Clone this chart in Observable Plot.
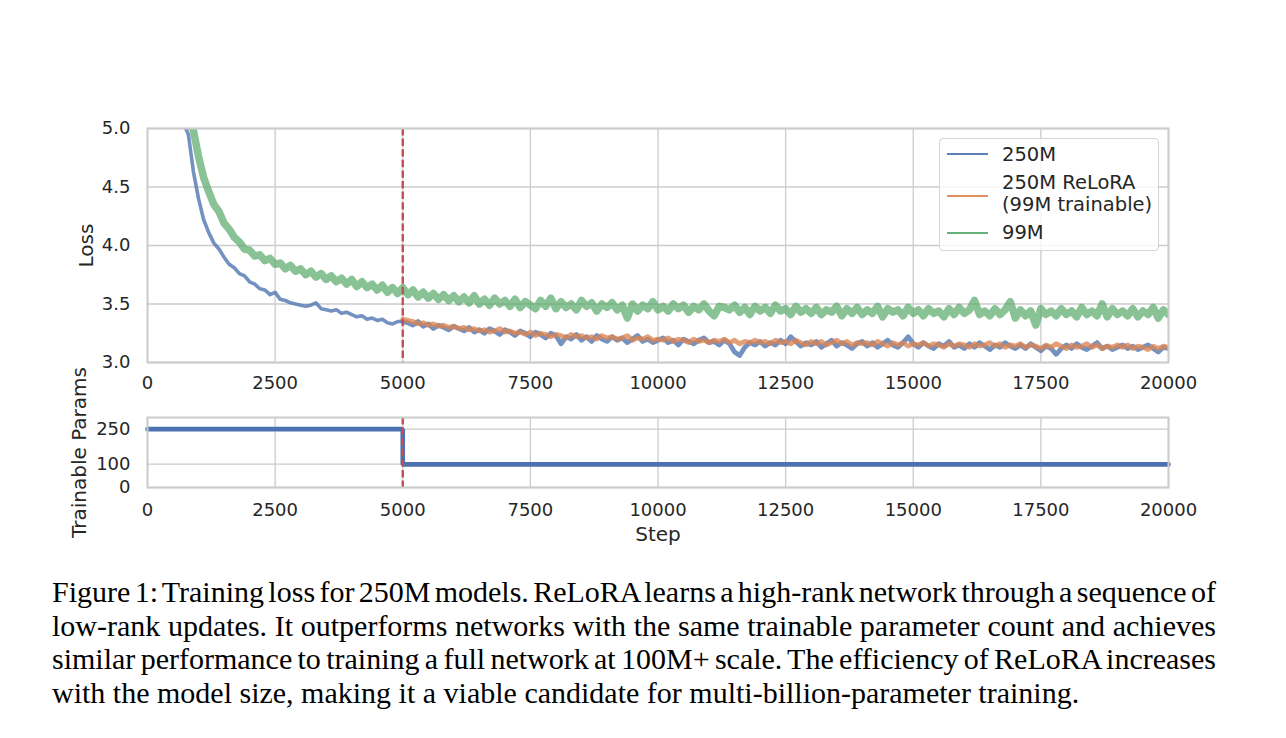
<!DOCTYPE html>
<html>
<head>
<meta charset="utf-8">
<script src="https://cdn.jsdelivr.net/npm/d3@7"></script>
<script src="https://cdn.jsdelivr.net/npm/@observablehq/plot@0.6"></script>
<style>
  body { margin: 0; background: #fff; }
  #fig { position: relative; width: 1286px; height: 738px; overflow: hidden; background: #fff; }
  #top, #bottom { position: absolute; left: 0; }
  #top { top: 0; }
  #bottom { top: 400px; }
  .legend {
    position: absolute; left: 939px; top: 138px; width: 218px; height: 111px;
    border: 1px solid #d4d4d4; border-radius: 4px; background: rgba(255,255,255,0.8);
    font-family: "DejaVu Sans"; font-size: 19.5px; color: #262626;
  }
  .legend .swatch { position: absolute; left: 7px; width: 41px; height: 2.6px; }
  .legend .lab { position: absolute; left: 62px; line-height: 22px; white-space: nowrap; }
  #caption {
    position: absolute; left: 52px; top: 575px; width: 1164px;
    font-family: "Liberation Serif", "Times New Roman", serif; font-size: 30px; line-height: 33.5px; color: #000;
  }
  #caption div { white-space: nowrap; }
  #caption span { white-space: nowrap; }
</style>
</head>
<body>
<div id="fig">
  <div id="top"></div>
  <div id="bottom"></div>
  <div class="legend" id="legend"></div>
  <div id="caption"></div>
</div>
<script>
// Series colours (seaborn "deep")
const colBlue = "#4C72B0";
const colOrange = "#DD8452";
const colGreen = "#55A868";
const colRed = "#C44E52";
const gridColor = "#cccccc";

// Axis ticks
const stepTicks = [0, 2500, 5000, 7500, 10000, 12500, 15000, 17500, 20000];
const lossTicks = [3.0, 3.5, 4.0, 4.5, 5.0];
const paramTicks = [0, 100, 250];

// Step at which ReLoRA switches to low-rank training
const resetStep = 5000;

// Loss curves, logged every 100 steps
const lossStride = 100;

// 250M full model, steps 700..20000
const blueStart = 700;
const blueLoss = [
  5.05, 4.95, 4.63, 4.40,
  4.22, 4.11, 4.02, 3.97, 3.90, 3.84, 3.81, 3.76, 3.74, 3.69,
  3.67, 3.63, 3.62, 3.58, 3.60, 3.54, 3.53, 3.51, 3.50, 3.49,
  3.48, 3.49, 3.51, 3.46, 3.45, 3.44, 3.45, 3.42, 3.43, 3.41,
  3.39, 3.40, 3.37, 3.38, 3.36, 3.37, 3.34, 3.33, 3.35, 3.35,
  3.34, 3.32, 3.35, 3.31, 3.33, 3.29, 3.32, 3.30, 3.28, 3.31,
  3.29, 3.27, 3.30, 3.26, 3.28, 3.25, 3.29, 3.27, 3.24, 3.28,
  3.26, 3.23, 3.27, 3.25, 3.22, 3.26, 3.24, 3.21, 3.25, 3.23,
  3.16, 3.22, 3.20, 3.24, 3.19, 3.22, 3.18, 3.23, 3.20, 3.18,
  3.22, 3.19, 3.21, 3.17, 3.20, 3.23, 3.18, 3.20, 3.17, 3.19,
  3.21, 3.17, 3.19, 3.15, 3.20, 3.18, 3.16, 3.19, 3.21, 3.17,
  3.18, 3.15, 3.19, 3.16, 3.09, 3.06, 3.13, 3.17, 3.15, 3.18,
  3.14, 3.17, 3.15, 3.19, 3.16, 3.22, 3.18, 3.14, 3.17, 3.15,
  3.18, 3.13, 3.16, 3.19, 3.14, 3.17, 3.15, 3.12, 3.16, 3.18,
  3.14, 3.17, 3.13, 3.16, 3.19, 3.15, 3.13, 3.17, 3.22, 3.16,
  3.13, 3.17, 3.14, 3.12, 3.16, 3.14, 3.18, 3.13, 3.15, 3.12,
  3.16, 3.13, 3.17, 3.14, 3.11, 3.15, 3.13, 3.17, 3.14, 3.12,
  3.15, 3.12, 3.16, 3.13, 3.10, 3.14, 3.12, 3.07, 3.12, 3.15,
  3.12, 3.16, 3.13, 3.11, 3.14, 3.17, 3.12, 3.14, 3.11, 3.13,
  3.15, 3.12, 3.14, 3.11, 3.13, 3.15, 3.12, 3.09, 3.13, 3.12
];

// 250M ReLoRA (99M trainable), steps 5000..20000
const orangeStart = 5000;
const orangeLoss = [
  3.37,
  3.36, 3.35, 3.33, 3.34, 3.32, 3.33, 3.31, 3.32, 3.30, 3.31,
  3.29, 3.30, 3.28, 3.29, 3.27, 3.28, 3.26, 3.27, 3.29, 3.26,
  3.27, 3.25, 3.26, 3.24, 3.26, 3.23, 3.25, 3.24, 3.22, 3.24,
  3.23, 3.21, 3.24, 3.22, 3.23, 3.21, 3.22, 3.20, 3.23, 3.21,
  3.22, 3.20, 3.21, 3.23, 3.19, 3.21, 3.20, 3.22, 3.19, 3.20,
  3.19, 3.21, 3.18, 3.20, 3.19, 3.17, 3.20, 3.18, 3.19, 3.17,
  3.19, 3.18, 3.20, 3.17, 3.19, 3.16, 3.18, 3.17, 3.19, 3.17,
  3.18, 3.16, 3.19, 3.17, 3.18, 3.16, 3.19, 3.17, 3.15, 3.18,
  3.16, 3.18, 3.15, 3.17, 3.19, 3.16, 3.18, 3.15, 3.17, 3.16,
  3.17, 3.15, 3.18, 3.16, 3.14, 3.17, 3.15, 3.17, 3.14, 3.16,
  3.15, 3.17, 3.14, 3.16, 3.15, 3.13, 3.16, 3.14, 3.16, 3.15,
  3.13, 3.16, 3.14, 3.15, 3.17, 3.14, 3.16, 3.13, 3.15, 3.14,
  3.16, 3.13, 3.15, 3.14, 3.12, 3.15, 3.13, 3.16, 3.14, 3.12,
  3.15, 3.13, 3.14, 3.16, 3.13, 3.15, 3.12, 3.14, 3.13, 3.15,
  3.13, 3.15, 3.12, 3.14, 3.13, 3.11, 3.14, 3.12, 3.14, 3.13
];

// 99M full model, steps 800..20000
const greenStart = 800;
const greenLoss = [
  5.10, 4.98, 4.76,
  4.58, 4.46, 4.35, 4.29, 4.19, 4.14, 4.07, 4.03, 3.97, 3.96,
  3.91, 3.92, 3.87, 3.89, 3.84, 3.85, 3.80, 3.83, 3.78, 3.80,
  3.75, 3.78, 3.73, 3.76, 3.71, 3.74, 3.69, 3.72, 3.67, 3.71,
  3.65, 3.69, 3.64, 3.67, 3.62, 3.66, 3.60, 3.64, 3.59, 3.64,
  3.58, 3.62, 3.56, 3.60, 3.55, 3.59, 3.54, 3.58, 3.53, 3.57,
  3.52, 3.56, 3.51, 3.57, 3.50, 3.54, 3.49, 3.55, 3.50, 3.53,
  3.48, 3.54, 3.47, 3.52, 3.49, 3.46, 3.53, 3.48, 3.55, 3.46,
  3.52, 3.47, 3.50, 3.45, 3.53, 3.48, 3.51, 3.44, 3.50, 3.47,
  3.51, 3.45, 3.49, 3.38, 3.50, 3.44, 3.49, 3.46, 3.52, 3.45,
  3.48, 3.44, 3.50, 3.46, 3.49, 3.43, 3.48, 3.45, 3.50, 3.44,
  3.40, 3.48, 3.47, 3.45, 3.49, 3.43, 3.47, 3.41, 3.48, 3.44,
  3.47, 3.42, 3.49, 3.44, 3.46, 3.41, 3.48, 3.43, 3.46, 3.42,
  3.47, 3.41, 3.45, 3.43, 3.48, 3.40, 3.46, 3.42, 3.47, 3.41,
  3.45, 3.42, 3.48, 3.39, 3.46, 3.43, 3.45, 3.40, 3.47, 3.42,
  3.45, 3.40, 3.46, 3.42, 3.44, 3.39, 3.46, 3.41, 3.47, 3.42,
  3.45, 3.53, 3.41, 3.44, 3.40, 3.46, 3.41, 3.45, 3.52, 3.38,
  3.45, 3.40, 3.44, 3.32, 3.46, 3.41, 3.44, 3.40, 3.46, 3.41,
  3.44, 3.39, 3.47, 3.41, 3.44, 3.40, 3.50, 3.39, 3.46, 3.41,
  3.44, 3.40, 3.46, 3.39, 3.44, 3.41, 3.47, 3.38, 3.45, 3.41
];

// Trainable parameters (millions) over training
const paramSteps = [0, 5000, 20000];
const paramValues = [250, 99, 99];

// Legend entries
const legendLabels = ["250M", "250M ReLoRA\n(99M trainable)", "99M"];
const legendColors = [colBlue, colOrange, colGreen];

const captionLines = [
  "Figure 1: Training loss for 250M models. ReLoRA learns a high-rank network through a sequence of",
  "low-rank updates. It outperforms networks with the same trainable parameter count and achieves",
  "similar performance to training a full network at 100M+ scale. The efficiency of ReLoRA increases",
  "with the model size, making it a viable candidate for multi-billion-parameter training."
];

function toRows(start, values) {
  return values.map((loss, i) => ({step: start + i * lossStride, loss}));
}
const blue = toRows(blueStart, blueLoss);
const orange = toRows(orangeStart, orangeLoss);
const green = toRows(greenStart, greenLoss);
const params = paramSteps.map((step, i) => ({step, value: paramValues[i]}));

// the full-rank run is drawn a little heavier after the reset point, where it gets noisier
const blueEarly = blue.filter(d => d.step <= resetStep);
const blueLate = blue.filter(d => d.step >= resetStep);

const baseStyle = {fontFamily: "DejaVu Sans", fontSize: "18px", color: "#262626", background: "transparent", overflow: "visible"};
const fmtStep = d3.format("d");

const topChart = Plot.plot({
  width: 1286, height: 410,
  marginLeft: 147, marginRight: 118, marginTop: 128, marginBottom: 48,
  style: baseStyle,
  x: {domain: [0, 20000]},
  y: {domain: [3, 5]},
  marks: [
    Plot.gridX(stepTicks, {stroke: gridColor, strokeOpacity: 1, strokeWidth: 1.3}),
    Plot.gridY(lossTicks, {stroke: gridColor, strokeOpacity: 1, strokeWidth: 1.3}),
    Plot.line(green, {x: "step", y: "loss", stroke: colGreen, strokeWidth: 7.5, strokeOpacity: 0.7, clip: true}),
    Plot.line(blueEarly, {x: "step", y: "loss", stroke: colBlue, strokeWidth: 3.6, strokeOpacity: 0.78, clip: true}),
    Plot.line(blueLate, {x: "step", y: "loss", stroke: colBlue, strokeWidth: 4.8, strokeOpacity: 0.78, clip: true}),
    Plot.line(orange, {x: "step", y: "loss", stroke: colOrange, strokeWidth: 4.8, strokeOpacity: 0.78, clip: true}),
    Plot.ruleX([resetStep], {stroke: colRed, strokeWidth: 2.4, strokeDasharray: "7.4,3.2"}),
    Plot.frame({stroke: gridColor, strokeWidth: 2}),
    Plot.axisX(stepTicks, {tickSize: 0, tickPadding: 14, tickFormat: fmtStep, label: null}),
    Plot.axisY(lossTicks, {tickSize: 0, tickPadding: 17, tickFormat: d3.format(".1f"), label: null}),
    Plot.text(["Loss"], {frameAnchor: "left", dx: -61, rotate: -90, text: d => d, fontSize: 20, textAnchor: "middle", lineAnchor: "middle"})
  ]
});
document.getElementById("top").appendChild(topChart);

const bottomChart = Plot.plot({
  width: 1286, height: 160,
  marginLeft: 147, marginRight: 118, marginTop: 17, marginBottom: 73,
  style: baseStyle,
  x: {domain: [0, 20000]},
  y: {domain: [0, 300]},
  marks: [
    Plot.gridX(stepTicks, {stroke: gridColor, strokeOpacity: 1, strokeWidth: 1.3}),
    Plot.gridY(paramTicks, {stroke: gridColor, strokeOpacity: 1, strokeWidth: 1.3}),
    Plot.line(params, {x: "step", y: "value", curve: "step-after", stroke: colBlue, strokeWidth: 4.6, strokeLinejoin: "miter"}),
    Plot.ruleX([resetStep], {stroke: colRed, strokeWidth: 2.4, strokeDasharray: "7.4,3.2"}),
    Plot.frame({stroke: gridColor, strokeWidth: 2}),
    Plot.axisX(stepTicks, {tickSize: 0, tickPadding: 16, tickFormat: fmtStep, label: null}),
    Plot.axisY(paramTicks, {tickSize: 0, tickPadding: 17, label: null}),
    Plot.text(["Trainable Params"], {frameAnchor: "left", dx: -68, rotate: -90, text: d => d, fontSize: 20, textAnchor: "middle", lineAnchor: "middle"}),
    Plot.text(["Step"], {frameAnchor: "bottom", dy: 47, text: d => d, fontSize: 20, lineAnchor: "middle"})
  ]
});
document.getElementById("bottom").appendChild(bottomChart);

// Legend
const legend = document.getElementById("legend");
const swatchY = [15, 57, 94];
const labelY = [[16], [44, 66], [94]];
legendLabels.forEach((lab, i) => {
  const sw = document.createElement("div");
  sw.className = "swatch";
  sw.style.top = (swatchY[i] - 1.3) + "px";
  sw.style.background = legendColors[i];
  sw.style.opacity = 0.9;
  legend.appendChild(sw);
  lab.split("\n").forEach((line, j) => {
    const t = document.createElement("div");
    t.className = "lab";
    t.style.top = (labelY[i][j] - 11) + "px";
    t.textContent = line;
    legend.appendChild(t);
  });
});

// Caption: every line but the last is justified to the full text width
const caption = document.getElementById("caption");
const textWidth = 1164;
captionLines.forEach((line, i) => {
  const row = document.createElement("div");
  const span = document.createElement("span");
  span.textContent = line;
  row.appendChild(span);
  caption.appendChild(row);
  if (i < captionLines.length - 1) {
    const gaps = (line.match(/ /g) || []).length;
    const extra = (textWidth - span.getBoundingClientRect().width) / gaps;
    span.style.wordSpacing = extra + "px";
  }
});
</script>
</body>
</html>
